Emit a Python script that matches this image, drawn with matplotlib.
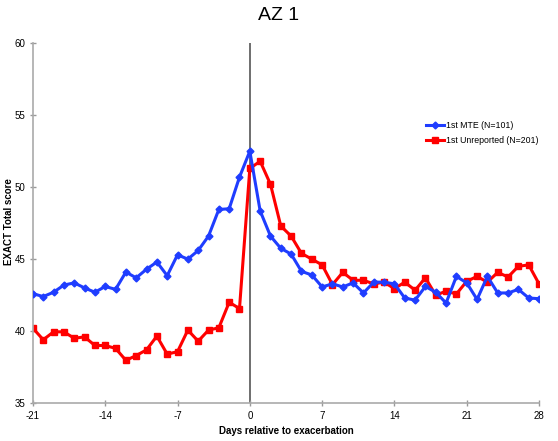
import matplotlib
matplotlib.use("Agg")
import matplotlib.pyplot as plt

plt.rcParams['font.family'] = ['Liberation Sans', 'DejaVu Sans']

days = list(range(-21, 29))
mte = [42.6, 42.4, 42.7, 43.2, 43.35, 43.0, 42.7, 43.1, 42.9, 44.1,
       43.7, 44.3, 44.8, 43.85, 45.3, 45.0, 45.6, 46.6, 48.45, 48.5,
       50.7, 52.5,
       48.35, 46.6, 45.75, 45.35, 44.15, 43.9, 43.07, 43.28, 43.07, 43.35,
       42.65, 43.4, 43.4, 43.28, 42.3, 42.15, 43.1, 42.7, 41.95, 43.8,
       43.35, 42.2, 43.8, 42.65, 42.65, 42.9, 42.3, 42.25]
unrep = [40.2, 39.4, 39.95, 39.95, 39.5, 39.6, 39.0, 39.0, 38.8, 37.97,
         38.3, 38.7, 39.65, 38.4, 38.57, 40.07, 39.3, 40.07, 40.23, 42.0,
         41.57, 51.3,
         51.8, 50.2, 47.3, 46.6, 45.4, 45.0, 44.6, 43.23, 44.08, 43.53,
         43.53, 43.28, 43.4, 42.95, 43.4, 42.84, 43.7, 42.5, 42.77, 42.58,
         43.46, 43.8, 43.4, 44.08, 43.76, 44.5, 44.6, 43.28]
xticks = [-21, -14, -7, 0, 7, 14, 21, 28]
yticks = [35, 40, 45, 50, 55, 60]
title = "AZ 1"
xlabel = "Days relative to exacerbation"
ylabel = "EXACT Total score"
labels = ["1st MTE (N=101)", "1st Unreported (N=201)"]

fig = plt.figure(figsize=(5.58, 4.41), dpi=100)
ax = fig.add_axes([0.059, 0.086, 0.907, 0.816])

ax.axvline(0, color='#555555', lw=1.2, zorder=1)
ax.plot(days, mte, color='#1f3dff', lw=2.2, marker='D', ms=3.5, label=labels[0], zorder=3)
ax.plot(days, unrep, color='#ff0000', lw=2.2, marker='s', ms=5, label=labels[1], zorder=2)

ax.set_xlim(-21, 28)
ax.set_ylim(35, 60)
ax.set_xticks(xticks)
ax.set_yticks(yticks)
ax.set_xticklabels([str(t) for t in xticks])
ax.tick_params(labelsize=7, color='#999999', length=4, width=1, direction='inout')
for s in ['top', 'right']:
    ax.spines[s].set_visible(False)
for s in ['left', 'bottom']:
    ax.spines[s].set_color('#aaaaaa')
    ax.spines[s].set_linewidth(1.2)

fig.text(0.5, 0.965, title, ha='center', va='center', fontsize=14)
fig.text(286 / 558, 1 - 431 / 441, xlabel, ha='center', va='center', fontsize=7, fontweight='bold')
fig.text(9 / 558, 1 - 222 / 441, ylabel, ha='center', va='center', rotation=90,
         fontsize=7, fontweight='bold')

ax.legend(loc='upper right', bbox_to_anchor=(1.015, 0.805), frameon=False, fontsize=6.3,
          handlelength=2.0, handletextpad=0.3, labelspacing=0.7)

fig.savefig("out.png", dpi=100)
